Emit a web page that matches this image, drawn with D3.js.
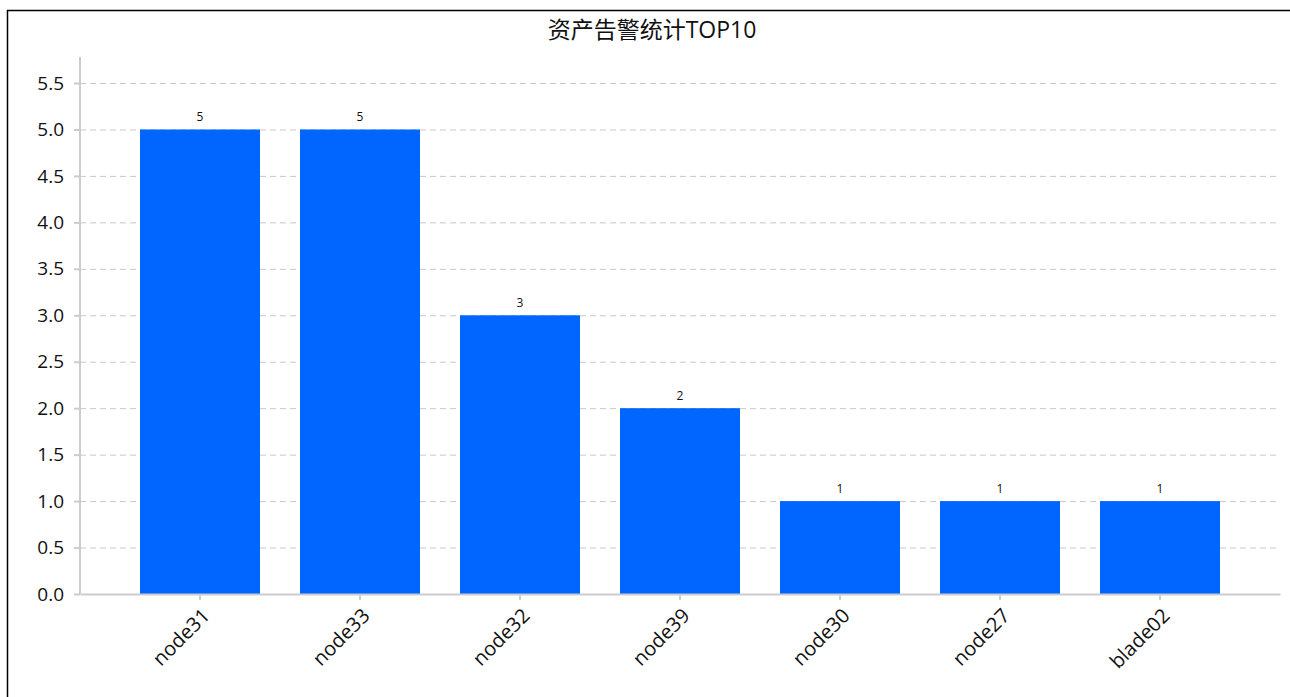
<!DOCTYPE html>
<html>
<head>
<meta charset="utf-8">
<script src="https://cdn.jsdelivr.net/npm/d3@7"></script>
<style>
  body { margin: 0; background: #fff; }
  svg { display: block; }
</style>
</head>
<body>
<div id="chart"></div>
<script>
// data
var categories = ["node31", "node33", "node32", "node39", "node30", "node27", "blade02"];
var values = [5, 5, 3, 2, 1, 1, 1];
var yTicks = [0, 0.5, 1, 1.5, 2, 2.5, 3, 3.5, 4, 4.5, 5, 5.5];
var title = "资产告警统计TOP10";

var W = 1290, H = 697;
var plot = {left: 80, right: 1280, top: 57, bottom: 594};

var svg = d3.select("#chart").append("svg")
    .attr("width", W)
    .attr("height", H);

// outer frame (only top and left show in the window)
svg.append("rect")
  .attr("x", 7.5).attr("y", 10.5)
  .attr("width", 1400).attr("height", 800)
  .attr("fill", "none")
  .attr("stroke", "#000")
  .attr("stroke-width", 1.5);

svg.append("text")
  .attr("x", 652).attr("y", 38)
  .attr("text-anchor", "middle")
  .style("font-family", "'Open Sans', 'Noto Sans CJK SC', sans-serif")
  .style("font-size", "23px")
  .style("fill", "#111")
  .text(title);

var x = d3.scaleBand()
  .domain(categories)
  .range([plot.left, plot.right])
  .paddingInner(0.25)
  .paddingOuter(0.375);

var y = d3.scaleLinear()
  .domain([0, 5.78])
  .range([plot.bottom, plot.top]);

// grid lines
svg.append("g")
  .selectAll("line")
  .data(yTicks.filter(function(d) { return d > 0; }))
  .enter().append("line")
    .attr("x1", plot.left).attr("x2", plot.right)
    .attr("y1", function(d) { return y(d) + 0.5; })
    .attr("y2", function(d) { return y(d) + 0.5; })
    .attr("stroke", "#c8c8c8")
    .attr("stroke-dasharray", "6,4");

// bars
svg.append("g")
  .selectAll("rect")
  .data(values)
  .enter().append("rect")
    .attr("x", function(d, i) { return x(categories[i]); })
    .attr("y", function(d) { return y(d); })
    .attr("width", x.bandwidth())
    .attr("height", function(d) { return y(0) - y(d); })
    .attr("fill", "#0066ff");

// value labels
svg.append("g")
  .selectAll("text")
  .data(values)
  .enter().append("text")
    .attr("x", function(d, i) { return x(categories[i]) + x.bandwidth() / 2; })
    .attr("y", function(d) { return y(d) - 8; })
    .attr("text-anchor", "middle")
    .style("font-family", "'Open Sans', sans-serif")
    .style("font-size", "12px")
    .style("fill", "#111")
    .text(function(d) { return d; });

// y axis
var yAxis = svg.append("g")
  .attr("transform", "translate(" + plot.left + ",0)")
  .call(d3.axisLeft(y).tickValues(yTicks).tickFormat(d3.format(".1f")).tickSize(6).tickPadding(10));
yAxis.select(".domain").remove();
yAxis.append("line")
  .attr("x1", 0).attr("x2", 0)
  .attr("y1", plot.top).attr("y2", plot.bottom)
  .attr("stroke", "#ccc").attr("stroke-width", 2);
yAxis.selectAll(".tick line").attr("stroke", "#ccc").attr("stroke-width", 2);
yAxis.selectAll(".tick text")
  .style("font-family", "'Open Sans', sans-serif")
  .style("font-size", "19px")
  .style("fill", "#111");

// x axis
var xAxis = svg.append("g")
  .attr("transform", "translate(0," + plot.bottom + ")")
  .call(d3.axisBottom(x).tickSize(6).tickSizeOuter(0));
xAxis.select(".domain").attr("stroke", "#ccc").attr("stroke-width", 2);
xAxis.selectAll(".tick line").attr("stroke", "#ccc").attr("stroke-width", 2);
xAxis.selectAll(".tick text")
  .attr("text-anchor", "end")
  .attr("dy", null)
  .attr("y", 0)
  .attr("transform", "translate(11,23) rotate(-45)")
  .style("font-family", "'Open Sans', sans-serif")
  .style("font-size", "20px")
  .style("fill", "#111");
</script>
</body>
</html>
